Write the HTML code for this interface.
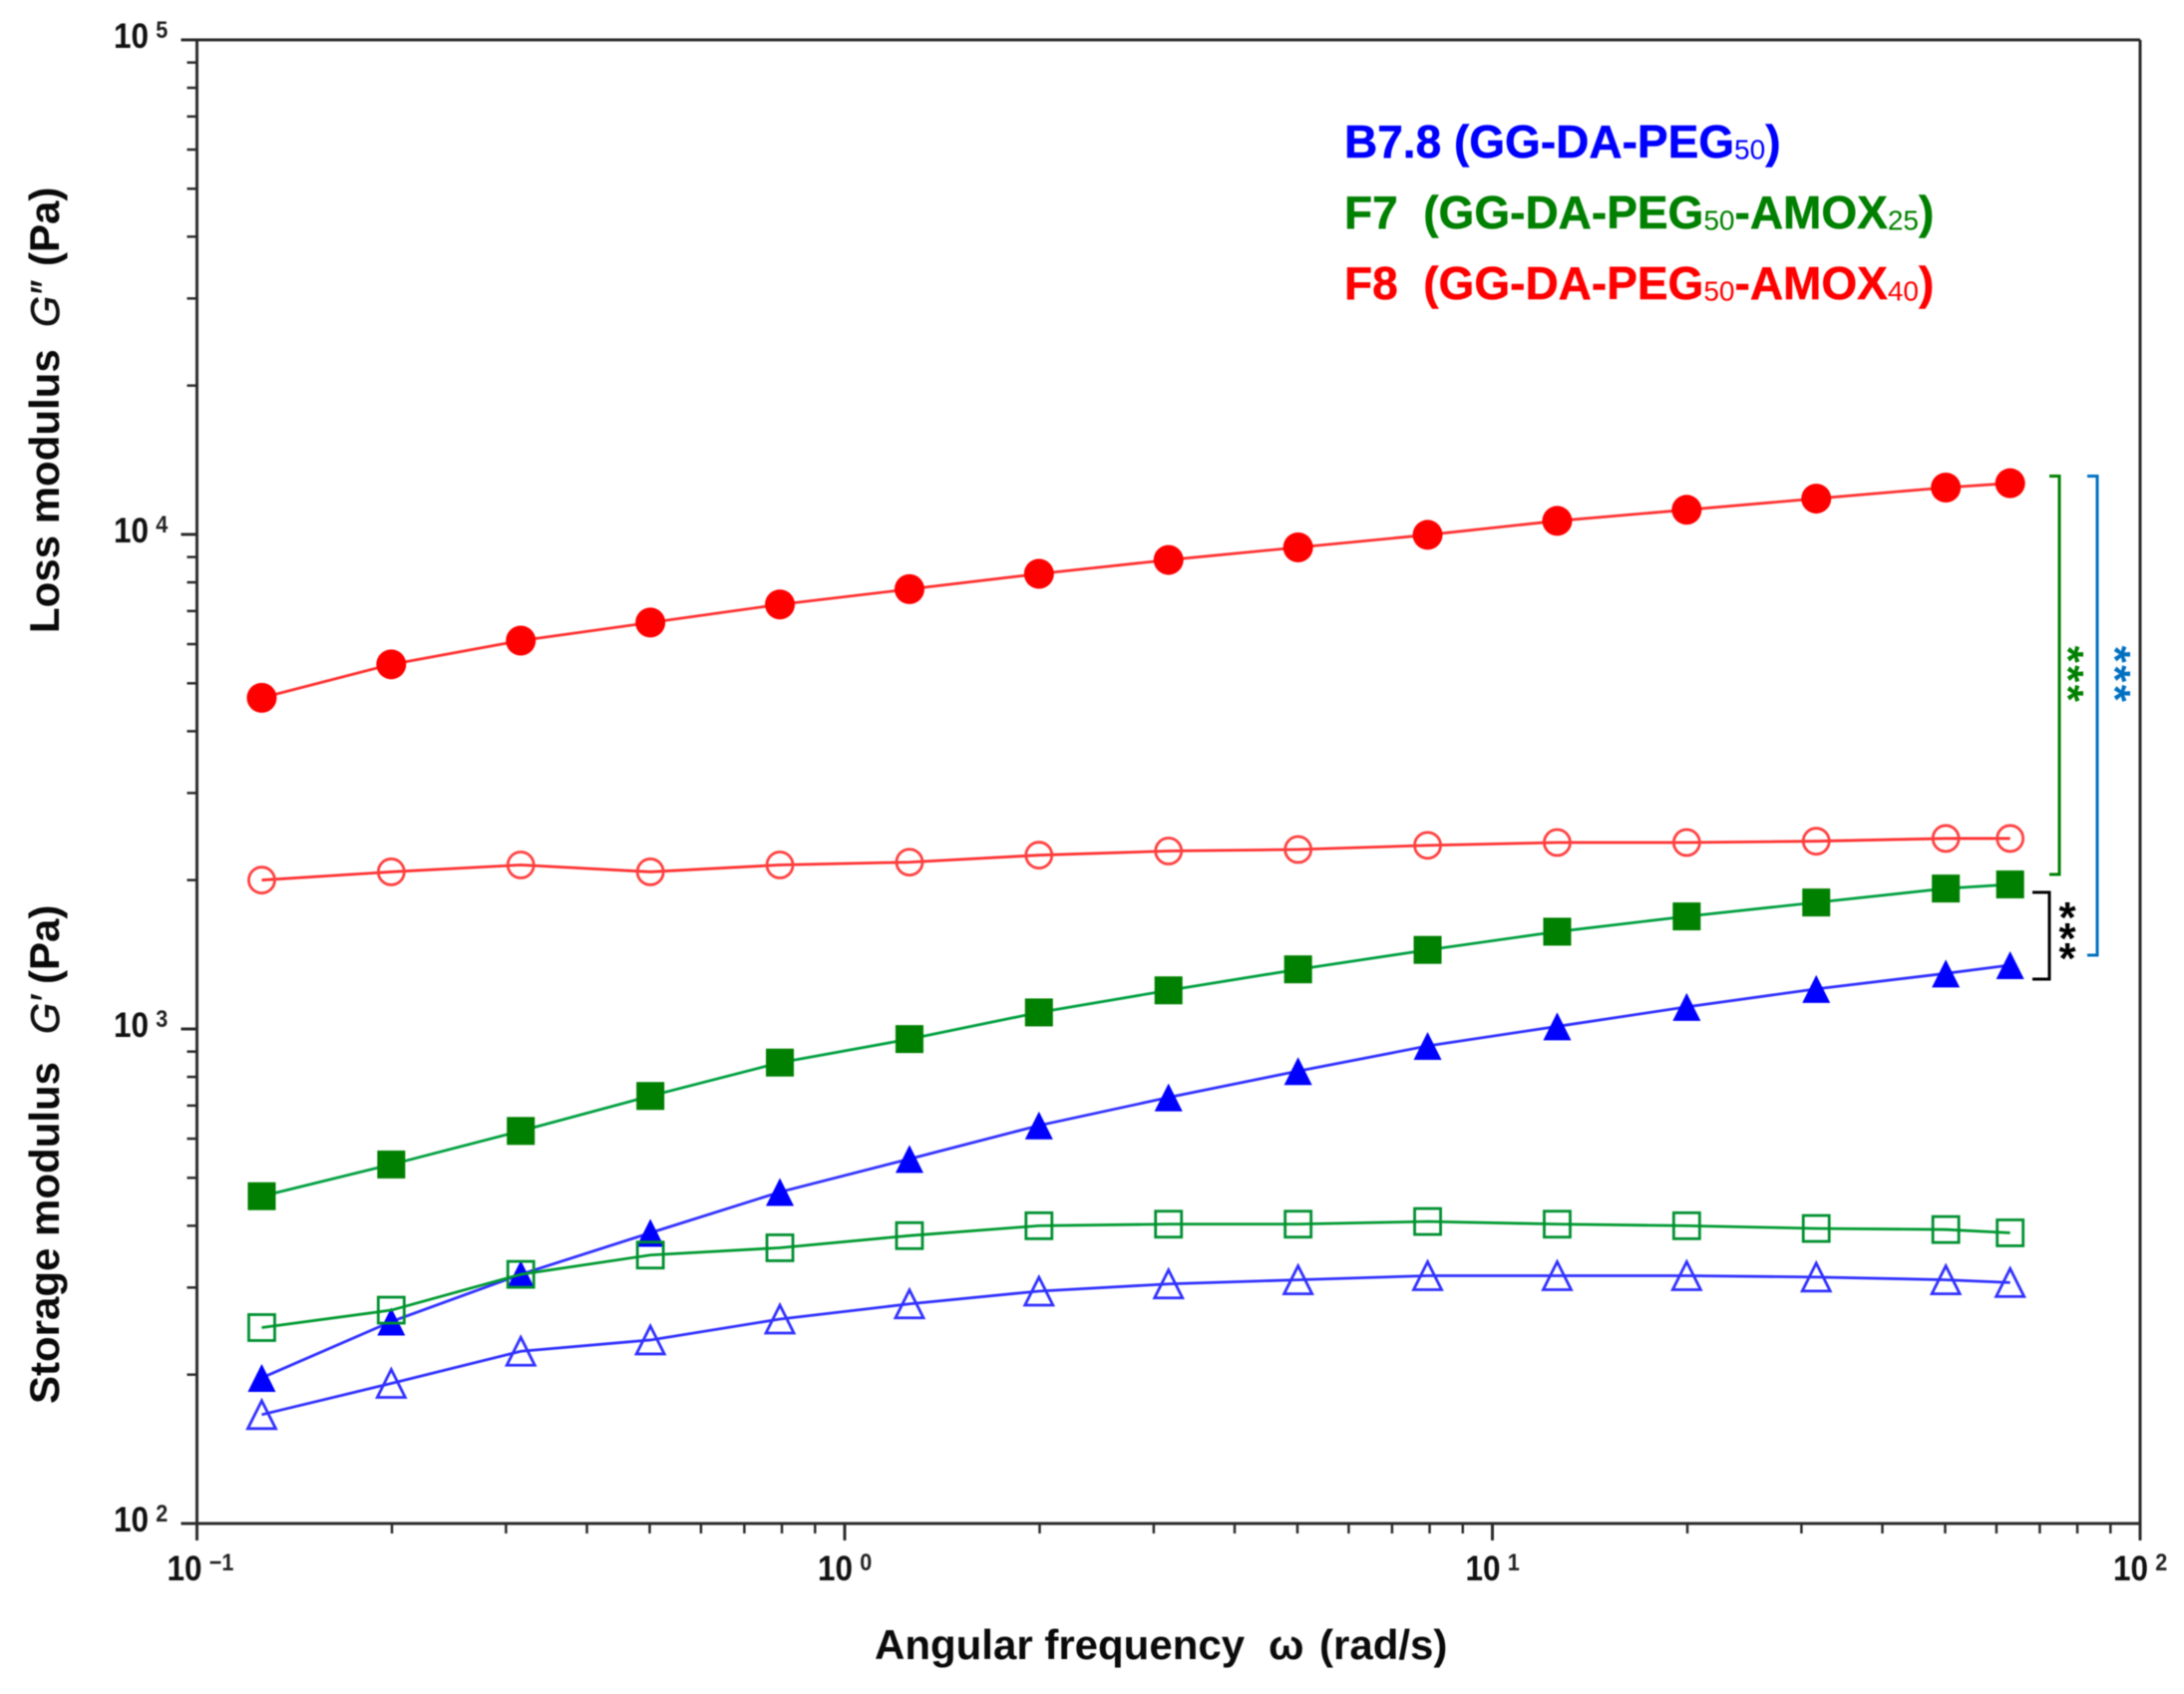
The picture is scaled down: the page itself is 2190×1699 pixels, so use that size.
<!DOCTYPE html>
<html lang="en">
<head>
<meta charset="utf-8">
<title>Storage and loss modulus versus angular frequency</title>
<style>
  html, body { margin: 0; padding: 0; background: #fff; }
  svg { display: block; filter: blur(0.6px); }
  text { font-family: "Liberation Sans", sans-serif; font-weight: bold; }
</style>
</head>
<body>
<svg id="chart" xmlns="http://www.w3.org/2000/svg" width="2190" height="1699" viewBox="0 0 2190 1699">
  <rect x="0" y="0" width="2190" height="1699" fill="#ffffff"/>
  <g id="axes"></g>
  <g id="series"></g>

  <text y="1664" font-size="42" fill="#0a0a0a"><tspan x="877">Angular frequency</tspan><tspan x="1272">ω</tspan><tspan x="1323">(rad/s)</tspan></text>

  <g transform="translate(59 635) rotate(-90)">
    <text x="0" y="0" font-size="42" fill="#0a0a0a">Loss modulus</text>
    <text x="307" y="0" font-size="40" fill="#111" stroke="#111" stroke-width="0.7" style="font-style:italic;font-weight:normal">G″</text>
    <text x="368" y="0" font-size="42" fill="#0a0a0a">(Pa)</text>
  </g>
  <g transform="translate(59 1408) rotate(-90)">
    <text x="0" y="0" font-size="42" fill="#0a0a0a">Storage modulus</text>
    <text x="371" y="0" font-size="40" fill="#111" stroke="#111" stroke-width="0.7" style="font-style:italic;font-weight:normal">G′</text>
    <text x="421" y="0" font-size="42" fill="#0a0a0a">(Pa)</text>
  </g>

  <g>
    <text x="1348" y="158" font-size="46" fill="#0000ff" stroke="#0000ff" stroke-width="0.5" xml:space="preserve">B7.8 (GG-DA-PEG<tspan font-size="28" dy="1.5" stroke="none" style="font-weight:normal">50</tspan><tspan dy="-1.5">)</tspan></text>
    <text x="1348" y="229" font-size="46" fill="#008000" stroke="#008000" stroke-width="0.5" xml:space="preserve">F7  (GG-DA-PEG<tspan font-size="28" dy="1.5" stroke="none" style="font-weight:normal">50</tspan><tspan dy="-1.5">-AMOX</tspan><tspan font-size="28" dy="1.5" stroke="none" style="font-weight:normal">25</tspan><tspan dy="-1.5">)</tspan></text>
    <text x="1348" y="300" font-size="46" fill="#ff0000" stroke="#ff0000" stroke-width="0.5" xml:space="preserve">F8  (GG-DA-PEG<tspan font-size="28" dy="1.5" stroke="none" style="font-weight:normal">50</tspan><tspan dy="-1.5">-AMOX</tspan><tspan font-size="28" dy="1.5" stroke="none" style="font-weight:normal">40</tspan><tspan dy="-1.5">)</tspan></text>
  </g>

  <g fill="none">
    <path d="M2055 477.5H2065V877H2055" stroke="#008000" stroke-width="3"/>
    <path d="M2093 477.5H2103V958H2093" stroke="#0070c0" stroke-width="3"/>
    <path d="M2038 895H2055V982H2038" stroke="#000000" stroke-width="3"/>
    <g transform="translate(2079 677) rotate(90)"><text x="0" y="20" text-anchor="middle" font-size="44" letter-spacing="2.5" fill="#008000">***</text></g>
    <g transform="translate(2126 677) rotate(90)"><text x="0" y="20" text-anchor="middle" font-size="44" letter-spacing="2.5" fill="#0070c0">***</text></g>
    <g font-size="44" fill="#000000" text-anchor="middle">
      <text x="2073" y="935">*</text>
      <text x="2073" y="956">*</text>
      <text x="2073" y="976">*</text>
    </g>
  </g>
</svg>

<script>
const frequency = [0.1259, 0.1995, 0.3162, 0.5012, 0.7943, 1.259, 1.995, 3.162, 5.012, 7.943, 12.59, 19.95, 31.62, 50.12, 63.0];
const b78Storage = [166, 192, 223, 235, 259, 278, 295, 305, 311, 317, 317, 317, 315, 311, 307];
const b78Loss = [197, 256, 319, 387, 468, 546, 638, 727, 822, 924, 1012, 1108, 1205, 1295, 1346];
const f7Storage = [249, 270, 319, 349, 361, 382, 400, 403, 403, 408, 403, 400, 395, 393, 387];
const f7Loss = [459, 532, 622, 732, 855, 954, 1080, 1197, 1320, 1445, 1573, 1689, 1802, 1923, 1960];
const f8Storage = [2000, 2078, 2146, 2078, 2146, 2174, 2246, 2290, 2306, 2351, 2382, 2382, 2397, 2428, 2428];
const f8Loss = [4674, 5461, 6099, 6634, 7217, 7750, 8325, 8881, 9415, 9980, 10650, 11215, 11815, 12440, 12690];
const xDecades = [-1, 0, 1, 2];
const yDecades = [2, 3, 4, 5];
const minorMultiples = [2, 3, 4, 5, 6, 7, 8, 9];

const plotLeft = 197.5, plotRight = 2146, plotTop = 40, plotBottom = 1528;
const NS = 'http://www.w3.org/2000/svg';
const axisColor = '#2b2b2b';

function xScale(v) {
  return plotLeft + (Math.log10(v) - xDecades[0]) / (xDecades[xDecades.length - 1] - xDecades[0]) * (plotRight - plotLeft);
}
function yScale(v) {
  return plotBottom - (Math.log10(v) - yDecades[0]) / (yDecades[yDecades.length - 1] - yDecades[0]) * (plotBottom - plotTop);
}
function mk(tag, attrs, parent) {
  const el = document.createElementNS(NS, tag);
  for (const k in attrs) el.setAttribute(k, attrs[k]);
  parent.appendChild(el);
  return el;
}
function axisLine(x1, y1, x2, y2, w, parent) {
  return mk('line', { x1: x1, y1: y1, x2: x2, y2: y2, stroke: axisColor, 'stroke-width': w }, parent);
}

const axes = document.getElementById('axes');

// frame
const frameTop = axisLine(plotLeft - 16, plotTop, plotRight, plotTop, 3, axes);


const frameBottom = axisLine(plotLeft - 16, plotBottom, plotRight, plotBottom, 3, axes);


const frameLeft = axisLine(plotLeft, plotTop, plotLeft, plotBottom + 17, 3, axes);


const frameRight = axisLine(plotRight, plotTop, plotRight, plotBottom + 17, 3, axes);



function powerLabel(x, y, exp, supGap) {
  const t = mk('text', { x: 0, y: 0, transform: 'translate(' + x + ' ' + y + ') scale(0.9 1)', 'font-size': 35, fill: '#111' }, axes);
  const base = mk('tspan', {}, t);
  base.textContent = '10';
  const sup = mk('tspan', { dx: supGap, dy: -10, 'font-size': 24, fill: '#222' }, t);
  sup.textContent = exp < 0 ? '\u2212' + Math.abs(exp) : String(exp);
  return t;
}

yDecades.forEach(function (d, i) {
  const y = yScale(Math.pow(10, d));
  if (i > 0 && i < yDecades.length - 1) {
    const major = axisLine(plotLeft - 16, y, plotLeft, y, 3, axes);
    
    
  }
  const lab = powerLabel(114, y + 8, d, 8);
  
  
  if (i < yDecades.length - 1) {
    minorMultiples.forEach(function (m) {
      const my = yScale(m * Math.pow(10, d));
      const minor = axisLine(plotLeft - 10, my, plotLeft, my, 2.5, axes);
      
      
    });
  }
});

xDecades.forEach(function (d, i) {
  const x = xScale(Math.pow(10, d));
  if (i > 0 && i < xDecades.length - 1) {
    const major = axisLine(x, plotBottom, x, plotBottom + 17, 3, axes);
    
    
  }
  const lab = powerLabel(x - (d < 0 ? 30 : 27), 1585, d, 8);
  
  
  if (i < xDecades.length - 1) {
    minorMultiples.forEach(function (m) {
      const mx = xScale(m * Math.pow(10, d));
      const minor = axisLine(mx, plotBottom, mx, plotBottom + 10, 2.5, axes);
      
      
    });
  }
});

const seriesRoot = document.getElementById('series');

function drawMarker(kind, open, color, cx, cy, parent) {
  const s = 14;
  const paint = open
    ? { fill: 'none', stroke: color, 'stroke-width': 2.8 }
    : { fill: color, stroke: 'none' };
  let el;
  if (kind === 'circle') {
    el = mk('circle', Object.assign({ cx: cx, cy: cy, r: open ? s - 1 : s + 1 }, paint), parent);
  } else if (kind === 'square') {
    const h = open ? s - 1 : s;
    el = mk('rect', Object.assign({ x: cx - h, y: cy - h, width: 2 * h, height: 2 * h }, paint), parent);
  } else {
    const pts = (cx - s) + ',' + (cy + s) + ' ' + (cx + s) + ',' + (cy + s) + ' ' + cx + ',' + (cy - s);
    el = mk('polygon', Object.assign({ points: pts }, paint), parent);
  }
  return el;
}

function drawSeries(values, kind, open, color, lineColor, name) {
  const g = mk('g', {}, seriesRoot);
  
  
  const pts = values.map(function (v, i) { return xScale(frequency[i]) + ',' + yScale(v); }).join(' ');
  const line = mk('polyline', { points: pts, fill: 'none', stroke: lineColor, 'stroke-width': 2.8 }, g);
  
  
  values.forEach(function (v, i) {
    const m = drawMarker(kind, open, color, xScale(frequency[i]), yScale(v), g);
    
    
  });
}

drawSeries(b78Loss, 'triangle', false, '#0000ff', '#3030ff', 'b78-filled-triangles');
drawSeries(b78Storage, 'triangle', true, '#3030ff', '#3030ff', 'b78-open-triangles');
drawSeries(f7Loss, 'square', false, '#008000', '#00a040', 'f7-filled-squares');
drawSeries(f7Storage, 'square', true, '#009030', '#009a30', 'f7-open-squares');
drawSeries(f8Storage, 'circle', true, '#ff4040', '#ff3030', 'f8-open-circles');
drawSeries(f8Loss, 'circle', false, '#ff0000', '#ff3030', 'f8-filled-circles');
</script>
</body>
</html>
